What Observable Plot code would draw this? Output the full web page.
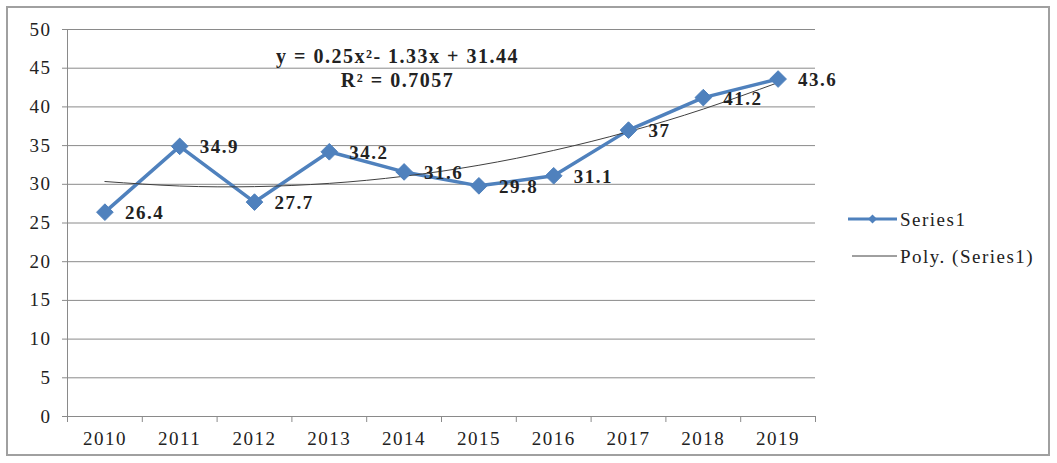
<!DOCTYPE html>
<html>
<head>
<meta charset="utf-8">
<script src="https://cdn.jsdelivr.net/npm/d3@7"></script>
<script src="https://cdn.jsdelivr.net/npm/@observablehq/plot@0.6"></script>
<style>
  html, body { margin: 0; padding: 0; background: #fff; }
  #wrap { position: relative; width: 1057px; height: 463px; overflow: hidden; font-family: "Liberation Serif", "DejaVu Serif", serif; }
  #border { position: absolute; left: 6px; top: 6px; width: 1040px; height: 446px; border: 2px solid #a0a0a0; }
  #chart { position: absolute; left: 0; top: 0; }
  .eq { position: absolute; left: 245px; width: 305px; text-align: center; font-weight: bold; font-size: 20px; letter-spacing: 1.5px; color: #222; line-height: 20px; white-space: nowrap; }
  .leg { position: absolute; font-size: 19px; letter-spacing: 1.5px; color: #222; line-height: 20px; white-space: nowrap; }
</style>
</head>
<body>
<div id="wrap">
  <div id="border"></div>
  <div id="chart"></div>
  <div class="eq" style="top:46px;">y = 0.25x²- 1.33x + 31.44</div>
  <div class="eq" style="top:70px;">R² = 0.7057</div>
  <svg style="position:absolute; left:845px; top:209px;" width="55" height="55">
    <line x1="3" x2="52" y1="10" y2="10" stroke="#4F81BD" stroke-width="3"/>
    <path d="M27.5,5.5 L32,10 L27.5,14.5 L23,10 Z" fill="#4F81BD"/>
    <line x1="7" x2="52" y1="47" y2="47" stroke="#404040" stroke-width="1"/>
  </svg>
  <div class="leg" style="left:900px; top:210px;">Series1</div>
  <div class="leg" style="left:900px; top:247px;">Poly. (Series1)</div>
</div>
<script>
const years = [2010, 2011, 2012, 2013, 2014, 2015, 2016, 2017, 2018, 2019];
const values = [26.4, 34.9, 27.7, 34.2, 31.6, 29.8, 31.1, 37, 41.2, 43.6];
const labels = ["26.4", "34.9", "27.7", "34.2", "31.6", "29.8", "31.1", "37", "41.2", "43.6"];
const trendCoef = [31.44, -1.33, 0.25]; // c0 + c1*x + c2*x^2 from the chart's equation
const yTicks = [0, 5, 10, 15, 20, 25, 30, 35, 40, 45, 50];
const xBounds = [2009.5, 2010.5, 2011.5, 2012.5, 2013.5, 2014.5, 2015.5, 2016.5, 2017.5, 2018.5, 2019.5];

const data = years.map((y, i) => ({year: y, value: values[i], label: labels[i]}));
const trend = years.map((y, i) => {
  const x = i + 1;
  return {year: y, value: trendCoef[0] + trendCoef[1] * x + trendCoef[2] * x * x};
});

const blue = "#4F81BD";
const grid = "#8a8a8a";

const chart = Plot.plot({
  width: 1057,
  height: 463,
  marginLeft: 67,
  marginRight: 242,
  marginTop: 29,
  marginBottom: 47,
  style: {fontFamily: "'Liberation Serif', serif", fontSize: "19px", color: "#222", background: "transparent", letterSpacing: "1.5px"},
  x: {domain: [2009.5, 2019.5]},
  y: {domain: [0, 50]},
  marks: [
    Plot.gridY(yTicks, {stroke: grid, strokeOpacity: 1, strokeWidth: 1}),
    Plot.ruleX([2009.5], {stroke: grid, strokeWidth: 1}),
    Plot.ruleY([0], {stroke: grid, strokeWidth: 1}),
    Plot.axisY(yTicks, {tickSize: 5, tickPadding: 11, stroke: grid, label: null, fontSize: 19}),
    Plot.axisX(xBounds, {tickSize: 6, tickFormat: () => "", stroke: grid, label: null}),
    Plot.axisX(years, {tickSize: 0, tickPadding: 15, tickFormat: d => String(d), label: null, fontSize: 19}),
    Plot.line(data, {x: "year", y: "value", stroke: blue, strokeWidth: 3.5}),
    Plot.line(trend, {x: "year", y: "value", stroke: "#404040", strokeWidth: 1, curve: "natural"}),
    Plot.dot(data, {x: "year", y: "value", symbol: "diamond2", r: 7.5, fill: blue, stroke: blue, strokeWidth: 1}),
    Plot.text(data, {x: "year", y: "value", text: "label", textAnchor: "start", dx: 20, dy: 1, fontWeight: "bold", fontSize: 19, fill: "#222", style: "letter-spacing:1.8px"})
  ]
});
document.getElementById("chart").appendChild(chart);
</script>
</body>
</html>
